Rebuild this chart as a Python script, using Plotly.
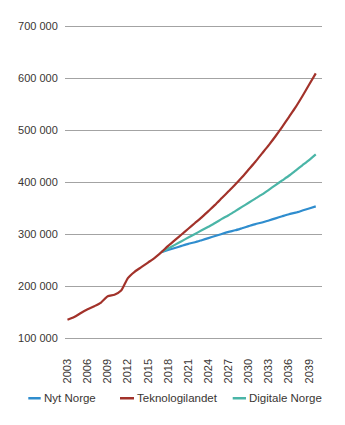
import plotly.graph_objects as go

years_hist = list(range(2003, 2018))
years_proj = list(range(2017, 2041))

# thousands
tek_hist = [136, 141, 149, 156, 162, 169, 181, 184, 192, 216, 228, 237, 246, 255, 266]
tek_proj = [266, 278, 289, 300, 311, 322, 333, 345, 357, 370, 383, 396, 410, 425, 440,
            456, 472, 489, 507, 526, 545, 566, 588, 610]
nyt_proj = [266, 270, 274, 278, 282, 285, 289, 293, 297, 301, 305, 308, 312, 316, 320,
            323, 327, 331, 335, 339, 342, 346, 350, 354]
dig_proj = [266, 273, 280, 287, 294, 301, 308, 315, 322, 330, 337, 345, 353, 361, 369,
            377, 386, 395, 404, 413, 423, 433, 443, 454]

series_names = ["Nyt Norge", "Teknologilandet", "Digitale Norge"]
tick_years = list(range(2003, 2040, 3))
y_ticks = [100000, 200000, 300000, 400000, 500000, 600000, 700000]

BLUE = "#2f8dce"
RED = "#a2322a"
TEAL = "#4ab5a7"
TXT = "#3a3633"
colors = [BLUE, RED, TEAL]

tek_years = years_hist + years_proj[1:]
tek_vals = [v * 1000 for v in tek_hist + tek_proj[1:]]

fig = go.Figure()
fig.add_trace(go.Scatter(x=years_proj, y=[v * 1000 for v in nyt_proj], mode="lines",
                         name=series_names[0],
                         line=dict(color=BLUE, width=2.2, shape="spline", smoothing=0.6)))
fig.add_trace(go.Scatter(x=years_proj, y=[v * 1000 for v in dig_proj], mode="lines",
                         name=series_names[2],
                         line=dict(color=TEAL, width=2.2, shape="spline", smoothing=0.6)))
fig.add_trace(go.Scatter(x=tek_years, y=tek_vals, mode="lines",
                         name=series_names[1],
                         line=dict(color=RED, width=2.2, shape="spline", smoothing=0.6)))

# manual legend (plot area in px)
L, R, T, B = 65, 322, 24.4, 341.1
def px(xp):
    return (xp - L) / (R - L)
def py(yp):
    return (B - yp) / (B - T)

leg_sym = [(28.3, 40.7), (120, 134), (232.7, 246)]
leg_txt = [43.3, 136, 248.3]
leg_y = 398.3
for name, col, (x0, x1), xt in zip(series_names, colors, leg_sym, leg_txt):
    fig.add_shape(type="line", xref="paper", yref="paper", x0=px(x0), x1=px(x1),
                  y0=py(leg_y), y1=py(leg_y), line=dict(color=col, width=2.5))
    fig.add_annotation(xref="paper", yref="paper", x=px(xt), y=py(leg_y), text=name,
                       showarrow=False, xanchor="left", yanchor="middle",
                       font=dict(size=11.5, color=TXT), xshift=-1)

fig.update_layout(
    width=345, height=425,
    margin=dict(l=L, r=345 - R, t=T, b=425 - B, autoexpand=False),
    paper_bgcolor="white", plot_bgcolor="white",
    separators=", ",
    font=dict(family="Liberation Sans, Arial, sans-serif", size=11, color=TXT),
    showlegend=False,
)
fig.update_xaxes(range=[2002.63, 2040.93], tickvals=tick_years, ticktext=[str(y) for y in tick_years],
                 tickangle=-90, showgrid=False, zeroline=False, showline=False,
                 ticks="outside", ticklen=12.5, tickcolor="rgba(0,0,0,0)", automargin=False)
fig.update_yaxes(range=[95000, 705000], tickvals=y_ticks, tickformat=",d",
                 showgrid=True, gridcolor="#a3a3a3", gridwidth=1, zeroline=False,
                 showline=False, ticks="outside", ticklen=4, tickcolor="rgba(0,0,0,0)",
                 automargin=False)

fig.write_html("out.html")
